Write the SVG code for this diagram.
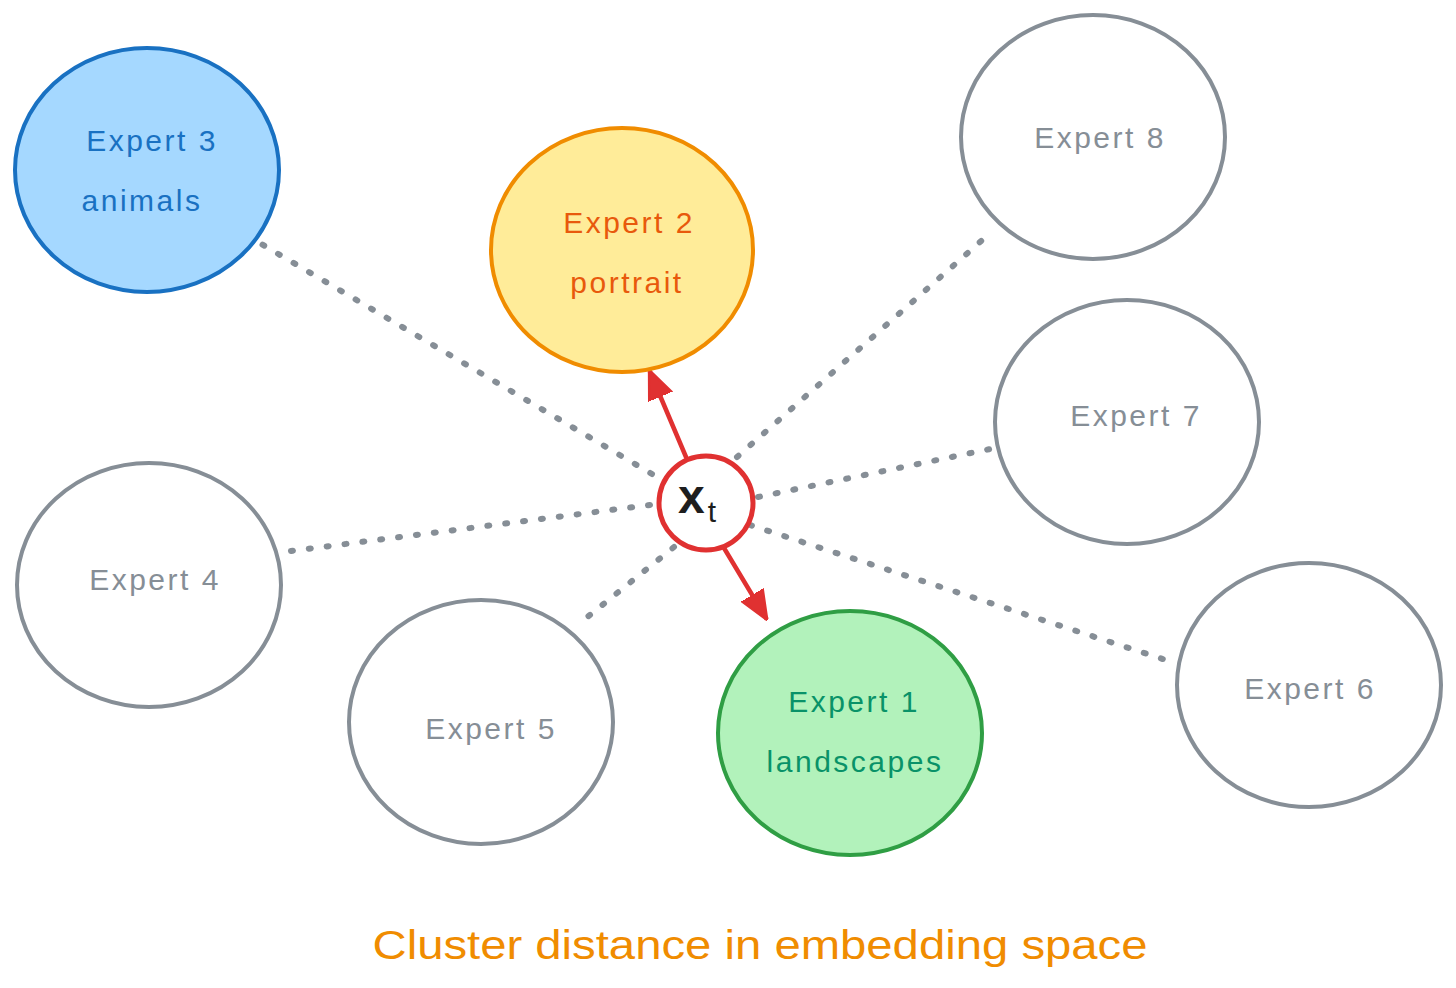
<svg xmlns="http://www.w3.org/2000/svg" width="1456" height="988" viewBox="0 0 1456 988">
<defs>
<style>
.gray{fill:#ffffff;stroke:#868e96;stroke-width:4}
.lbl{font-family:"Liberation Sans",Arial,sans-serif;font-size:30px;letter-spacing:2.5px;text-anchor:middle;dominant-baseline:central}
.glbl{fill:#868e96}
.dot{stroke:#868e96;stroke-width:6;stroke-linecap:round;stroke-dasharray:2 16;fill:none}
.red{stroke:#e03131;stroke-width:4.5;fill:none;stroke-linecap:round}
</style>
<marker id="ah" viewBox="0 0 12 12" refX="11" refY="6" markerWidth="6.5" markerHeight="6.5" orient="auto" markerUnits="strokeWidth">
<path d="M0,1 L12,6 L0,11 Z" fill="#e03131" stroke="#e03131" stroke-linejoin="round"/>
</marker>
</defs>
<rect width="1456" height="988" fill="#ffffff"/>
<g id="connectors">
<line class="dot" x1="652" y1="474" x2="258" y2="242"/>
<line class="dot" x1="737" y1="457" x2="988" y2="235"/>
<line class="dot" x1="758" y1="497" x2="1000" y2="447"/>
<line class="dot" x1="650" y1="505" x2="283" y2="552"/>
<line class="dot" x1="674" y1="547" x2="580" y2="623"/>
<line class="dot" x1="750" y1="525" x2="1175" y2="663"/>
<line class="red" x1="686" y1="457" x2="650" y2="372" marker-end="url(#ah)"/>
<line class="red" x1="724" y1="548" x2="766" y2="618" marker-end="url(#ah)"/>
</g>
<g id="expert3">
<ellipse cx="147" cy="170" rx="132" ry="122" fill="#a5d8ff" stroke="#1971c2" stroke-width="4"/>
<text class="lbl" x="152" y="140" fill="#1971c2">Expert 3</text>
<text class="lbl" x="142" y="200" fill="#1971c2">animals</text>
</g>
<g id="expert2">
<ellipse cx="622" cy="250" rx="131" ry="122" fill="#ffec99" stroke="#f08c00" stroke-width="4"/>
<text class="lbl" x="629" y="222" fill="#e8590c">Expert 2</text>
<text class="lbl" x="627" y="282" fill="#e8590c">portrait</text>
</g>
<g id="expert8">
<ellipse class="gray" cx="1093" cy="137" rx="132" ry="122"/>
<text class="lbl glbl" x="1100" y="137">Expert 8</text>
</g>
<g id="expert7">
<ellipse class="gray" cx="1127" cy="422" rx="132" ry="122"/>
<text class="lbl glbl" x="1136" y="415">Expert 7</text>
</g>
<g id="expert4">
<ellipse class="gray" cx="149" cy="585" rx="132" ry="122"/>
<text class="lbl glbl" x="155" y="579">Expert 4</text>
</g>
<g id="expert5">
<ellipse class="gray" cx="481" cy="722" rx="132" ry="122"/>
<text class="lbl glbl" x="491" y="728">Expert 5</text>
</g>
<g id="expert1">
<ellipse cx="850" cy="733" rx="132" ry="122" fill="#b2f2bb" stroke="#2f9e44" stroke-width="4"/>
<text class="lbl" x="854" y="701" fill="#099268">Expert 1</text>
<text class="lbl" x="855" y="761" fill="#099268">landscapes</text>
</g>
<g id="expert6">
<ellipse class="gray" cx="1309" cy="685" rx="132" ry="122"/>
<text class="lbl glbl" x="1310" y="688">Expert 6</text>
</g>
<g id="xt">
<circle cx="706" cy="503" r="47" fill="#ffffff" stroke="#e03131" stroke-width="5"/>
<text x="697" y="513" font-family="'Liberation Sans',Arial,sans-serif" font-size="48" font-weight="bold" fill="#1e1e1e" text-anchor="middle">x<tspan font-size="30" font-weight="normal" dx="3" dy="9">t</tspan></text>
</g>
<g id="title">
<text x="760" y="945" font-family="'Liberation Sans',Arial,sans-serif" font-size="40" fill="#f08c00" text-anchor="middle" dominant-baseline="central" textLength="775" lengthAdjust="spacingAndGlyphs">Cluster distance in embedding space</text>
</g>
</svg>
